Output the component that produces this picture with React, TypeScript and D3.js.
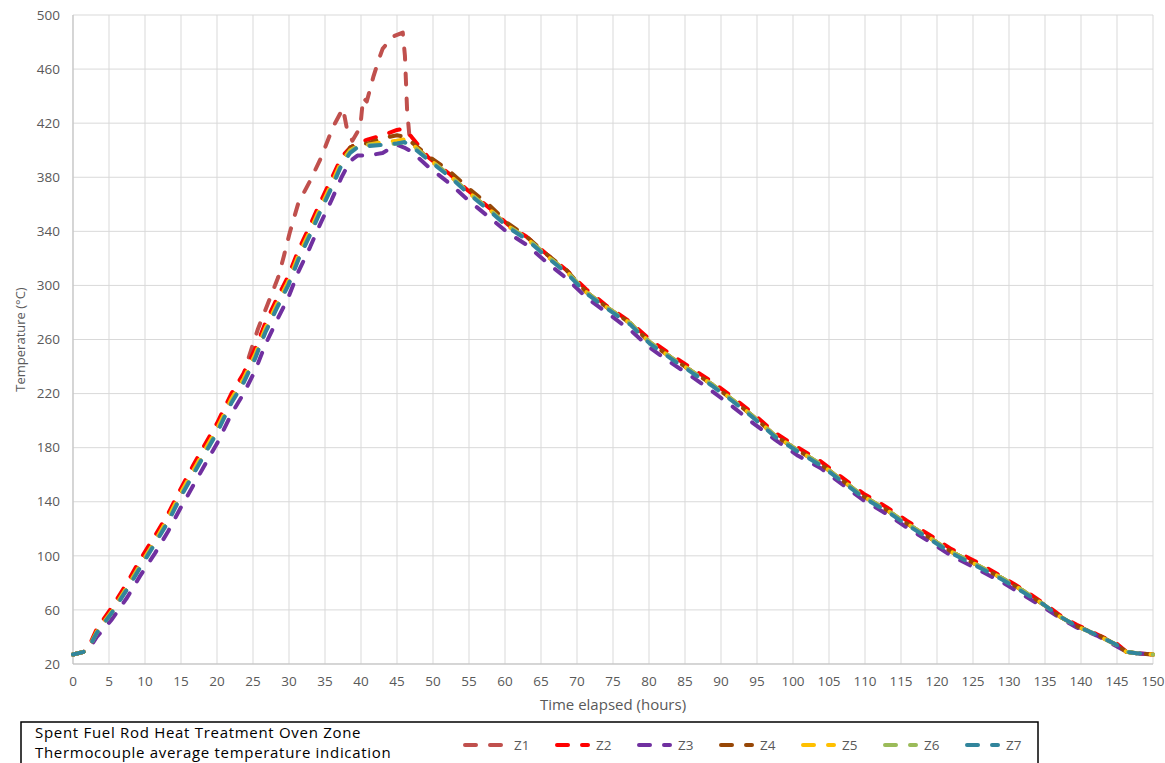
import React from "react";
import * as d3 from "d3";

const zoneNames = ["Z1", "Z2", "Z3", "Z4", "Z5", "Z6", "Z7"];
const zoneColors = ["#C0504D", "#FF0000", "#7030A0", "#974706", "#FFC000", "#9BBB59", "#31859C"];

const xTicks = d3.range(0, 151, 5);
const yTicks = [20, 60, 100, 140, 180, 220, 260, 300, 340, 380, 420, 460, 500];

const z1Hours = [0, 1.5, 2.2, 3.3, 5.4, 7.5, 9.3, 11.4, 13.2, 14.9, 16.7, 18.6, 20, 22, 23.7, 24.6, 25.7, 27.1, 28.5, 29.3, 30.1, 31.3, 32.9, 34.5, 36.1, 37, 37.5, 38, 38.8, 39.9, 40.3, 40.8, 41.7, 42.6, 43, 44.4, 45.8, 46.1, 46.4, 46.7, 47, 49.3, 52.4, 54.9, 57.9, 60.4, 63, 65.8, 68.6, 71.3, 74.1, 77.4, 80.1, 83, 86.1, 88.7, 91.7, 94.5, 97.5, 100.7, 103.8, 106.8, 109.8, 113, 115.8, 118.8, 122, 125.3, 129.2, 132, 134.8, 137.1, 139.4, 142.2, 145, 146.3, 147.7, 150];
const z1Temps = [27, 29, 32, 44, 59, 76, 93, 111, 127, 145, 162, 180, 194, 216, 234, 250, 268, 287, 306, 322, 339, 361, 377, 395, 417, 426, 431, 417, 407, 417, 439, 436, 454, 469, 475, 484, 487, 470, 430, 412, 406, 394, 381, 369, 356, 344, 335, 322, 310, 295, 284, 272, 258, 247, 236, 227, 215, 203, 189, 178, 168, 156, 144, 134, 124, 114, 103, 94, 83, 74, 64, 55, 48, 41.5, 34, 29, 28, 27];

const hours = [0, 1.5, 2.2, 3.3, 5.4, 7.5, 9.3, 11.4, 13.2, 14.9, 16.7, 18.6, 20, 22, 23.7, 25.3, 26.7, 28.3, 29.9, 31.3, 32.9, 34.3, 35.9, 37.3, 38.5, 39.5, 41, 43, 45, 46, 47, 49.3, 52.4, 54.9, 57.9, 60.4, 63, 65.8, 68.6, 71.3, 74.1, 77.4, 80.1, 83, 86.1, 88.7, 91.7, 94.5, 97.5, 100.7, 103.8, 106.8, 109.8, 113, 115.8, 118.8, 122, 125.3, 129.2, 132, 134.8, 137.1, 139.4, 142.2, 145, 146.3, 147.7, 150];

const z2Temps = [27, 29, 33, 46, 62, 80, 97, 115, 131, 149, 167, 185, 198, 220, 235, 253, 272, 290, 307, 326, 344, 361, 379, 395, 402, 405, 408, 411, 415, 416, 410, 395, 382, 370, 357, 345, 336, 323, 311, 297, 285, 273, 260, 249, 238, 229, 217, 205, 191, 180, 170, 158, 146, 136, 126, 116, 105, 96, 84, 75, 65, 56, 49, 42, 35, 29, 28, 27];
const z3Temps = [27, 29, 31, 40, 53, 69, 85, 102, 118, 135, 152, 170, 183, 205, 220, 237, 256, 274, 291, 310, 328, 345, 363, 380, 392, 396, 396, 398, 404, 402, 399, 388, 375, 363, 350, 339, 330, 317, 305, 291, 280, 267, 254, 243, 232, 222, 210, 198, 186, 174, 165, 153, 141, 131, 121, 111, 100, 91, 80, 71, 62, 54, 47, 41, 33, 29, 28, 27];
const z4Temps = [27, 29, 32, 44, 59, 77, 93, 111, 127, 145, 162, 180, 193, 215, 230, 248, 267, 285, 302, 321, 339, 356, 374, 391, 402, 405, 405, 409, 411, 410, 406, 396, 384, 372, 359, 346, 336, 323, 311, 295, 284, 272, 258, 247, 236, 227, 215, 203, 189, 178, 168, 156, 144, 134, 124, 114, 103, 94, 83, 74, 64, 55, 48, 42, 34, 29, 28, 27];
const z5Temps = [27, 29, 32, 44, 59, 77, 93, 111, 128, 146, 163, 181, 194, 216, 231, 249, 268, 286, 303, 322, 340, 357, 375, 392, 400, 403, 404, 406, 407, 408, 405, 394, 381, 369, 356, 344, 335, 322, 310, 295, 284, 272, 258, 247, 236, 227, 215, 203, 189, 178, 168, 156, 144, 134, 124, 114, 103, 94, 83, 74, 64, 55, 48, 41.5, 34, 29, 28, 27];
const z6Temps = [27, 29, 32, 43, 58, 76, 92, 110, 126, 144, 161, 179, 192, 214, 229, 247, 266, 284, 301, 320, 338, 355, 373, 390, 399, 403, 404, 404, 405, 406, 404, 394, 381, 369, 356, 344, 335, 322, 310, 295, 284, 272, 258, 247, 236, 227, 215, 203, 189, 178, 168, 156, 144, 134, 124, 114, 103, 94, 83, 74, 64, 55, 48, 41.5, 34, 29, 28, 27];
const z7Temps = [27, 29, 32, 43, 58, 75, 91, 109, 125, 143, 160, 178, 191, 213, 228, 246, 265, 283, 300, 319, 337, 354, 372, 389, 398, 402, 403, 404, 405, 406, 403, 393, 380, 368, 355, 343, 334, 321, 309, 294, 283, 271, 257, 246, 235, 226, 214, 202, 188, 177, 167, 155, 143, 133, 123, 113, 102, 93, 82, 73, 64, 55, 48, 41.5, 34, 29, 28, 27];

const legendTitle = ["Spent Fuel Rod Heat Treatment Oven Zone", "Thermocouple average temperature indication"];

const series = [
  { hrs: z1Hours, temps: z1Temps },
  { hrs: hours, temps: z2Temps },
  { hrs: hours, temps: z3Temps },
  { hrs: hours, temps: z4Temps },
  { hrs: hours, temps: z5Temps },
  { hrs: hours, temps: z6Temps },
  { hrs: hours, temps: z7Temps },
].map((s, i) => ({
  name: zoneNames[i],
  color: zoneColors[i],
  points: s.hrs.map((h, j) => [h, s.temps[j]] as [number, number]),
}));

const W = 1165;
const H = 763;
const left = 73;
const right = 1153;
const top = 15;
const bottom = 664;
const FONT = "Open Sans, Noto Sans, sans-serif";
const DASH = "11 14";

export default function App() {
  const x = d3.scaleLinear().domain([0, 150]).range([left, right]);
  const y = d3.scaleLinear().domain([20, 500]).range([bottom, top]);
  const line = d3
    .line<[number, number]>()
    .x((d) => x(d[0]))
    .y((d) => y(d[1]));

  let legendX = 463;
  const legendItems = series.map((s, i) => {
    const len = i === 0 ? 45 : 35;
    const item = { ...s, x0: legendX, x1: legendX + len, tx: legendX + len + 6 };
    legendX = item.tx + 41;
    return item;
  });

  return (
    <div style={{ position: "absolute", left: 0, top: 0 }}>
      <svg width={W} height={H} style={{ display: "block", background: "#fff" }}>
        <rect x={0} y={0} width={W} height={H} fill="#fff" />
        {yTicks.map((t) => (
          <line key={"gy" + t} x1={left} x2={right} y1={y(t)} y2={y(t)} stroke="#d9d9d9" strokeWidth={1} />
        ))}
        {xTicks.map((t) => (
          <line key={"gx" + t} x1={x(t)} x2={x(t)} y1={top} y2={bottom} stroke="#d9d9d9" strokeWidth={1} />
        ))}
        <line x1={left} x2={left} y1={top} y2={bottom} stroke="#bfbfbf" strokeWidth={1} />
        <line x1={left} x2={right} y1={bottom} y2={bottom} stroke="#bfbfbf" strokeWidth={1} />

        {yTicks.map((t) => (
          <text key={"ly" + t} x={left - 13} y={y(t)} dy="0.35em" textAnchor="end" fontFamily={FONT} fontSize={13.5} fill="#595959">
            {t}
          </text>
        ))}
        {xTicks.map((t) => (
          <text key={"lx" + t} x={x(t)} y={bottom + 17} dy="0.35em" textAnchor="middle" fontFamily={FONT} fontSize={13.5} fill="#595959">
            {t}
          </text>
        ))}

        <text
          transform={`translate(20,${(top + bottom) / 2}) rotate(-90)`}
          textAnchor="middle"
          dy="0.35em"
          fontFamily={FONT}
          fontSize={13}
          fill="#595959"
        >
          Temperature (°C)
        </text>
        <text x={(left + right) / 2} y={705} dy="0.35em" textAnchor="middle" fontFamily={FONT} fontSize={15} fill="#595959">
          Time elapsed (hours)
        </text>

        {series.map((s) => (
          <path
            key={s.name}
            d={line(s.points) || ""}
            fill="none"
            stroke={s.color}
            strokeWidth={4}
            strokeDasharray={DASH}
            strokeLinecap="round"
            strokeLinejoin="round"
          />
        ))}

        <rect x={21} y={722} width={1017} height={80} fill="#fff" stroke="#000" strokeWidth={1.5} />
        {legendTitle.map((t, i) => (
          <text key={t} x={35} y={733 + i * 19.5} dy="0.35em" fontFamily={FONT} fontSize={15} letterSpacing={0.7} fill="#000">
            {t}
          </text>
        ))}
        {legendItems.map((it) => (
          <g key={"leg" + it.name}>
            <line
              x1={it.x0 + 2}
              x2={it.x1 - 2}
              y1={745}
              y2={745}
              stroke={it.color}
              strokeWidth={4}
              strokeDasharray={DASH}
              strokeLinecap="round"
            />
            <text x={it.tx} y={745} dy="0.35em" fontFamily={FONT} fontSize={13.5} fill="#595959">
              {it.name}
            </text>
          </g>
        ))}
      </svg>
    </div>
  );
}
